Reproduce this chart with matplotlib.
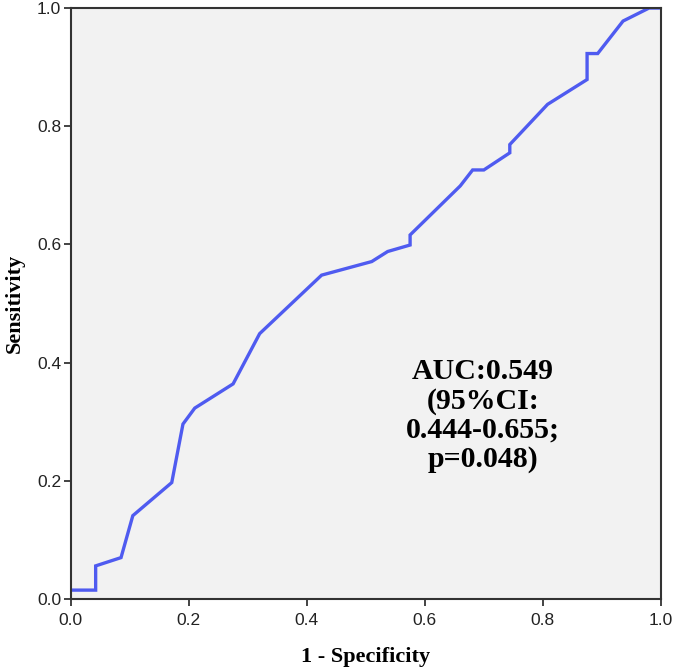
import numpy as np
import matplotlib.pyplot as plt

# ROC curve points
fpr = [0.0, 0.042, 0.042, 0.085, 0.105, 0.171, 0.19, 0.21, 0.275, 0.32, 0.425,
       0.51, 0.537, 0.575, 0.575, 0.66, 0.681, 0.70, 0.744, 0.744, 0.808,
       0.875, 0.875, 0.893, 0.936, 0.98, 1.0]
tpr = [0.015, 0.015, 0.056, 0.07, 0.141, 0.197, 0.296, 0.323, 0.364, 0.449, 0.548,
       0.571, 0.588, 0.599, 0.616, 0.699, 0.726, 0.726, 0.755, 0.769, 0.837,
       0.879, 0.923, 0.923, 0.978, 1.0, 1.0]
ticks = [0.0, 0.2, 0.4, 0.6, 0.8, 1.0]
note = "AUC:0.549\n(95%CI:\n0.444-0.655;\np=0.048)"

fig = plt.figure(figsize=(6.75, 6.7), dpi=100)
ax = fig.add_axes([0.105, 0.106, 0.874, 0.882])
ax.set_facecolor("#f2f2f2")

ax.plot(fpr, tpr, color="#4f5bf0", lw=2.4, solid_joinstyle="miter")

ax.set_xlim(0, 1)
ax.set_ylim(0, 1)
ax.set_xticks(ticks)
ax.set_yticks(ticks)
ax.set_xticklabels(["%.1f" % t for t in ticks], family="Liberation Sans", fontsize=12.5, color="#222222")
ax.set_yticklabels(["%.1f" % t for t in ticks], family="Liberation Sans", fontsize=12.5, color="#222222")
ax.tick_params(direction="out", length=5, width=1.2, color="#222222")
ax.tick_params(axis="x", pad=5)
ax.tick_params(axis="y", pad=2)
for s in ax.spines.values():
    s.set_linewidth(1.5)
    s.set_color("#333333")

ax.set_xlabel("1 - Specificity", family="Liberation Serif", fontweight="bold", fontsize=16, labelpad=14)
ax.set_ylabel("Sensitivity", family="Liberation Serif", fontweight="bold", fontsize=16, labelpad=9)

ax.text(0.698, 0.31, note, ha="center", va="center", family="Liberation Serif",
        fontweight="bold", fontsize=21.5, linespacing=1.1, transform=ax.transData)

fig.savefig("out.png", dpi=100)
